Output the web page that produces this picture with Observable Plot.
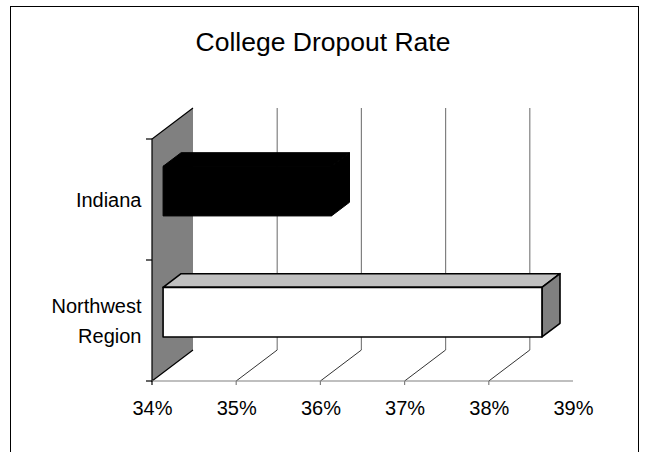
<!DOCTYPE html>
<html>
<head>
<meta charset="utf-8">
<script src="https://cdn.jsdelivr.net/npm/d3@7"></script>
<script src="https://cdn.jsdelivr.net/npm/@observablehq/plot@0.6"></script>
<style>
  html, body { margin: 0; padding: 0; background: #fff; overflow: hidden; }
  #chart { position: relative; width: 645px; height: 452px; font-family: "Liberation Sans", Arial, sans-serif; }
  #frame { position: absolute; left: 10px; top: 6px; width: 629px; height: 470px; border: 1.5px solid #000; border-bottom: none; box-sizing: border-box; }
  #title { position: absolute; left: 0; top: 29px; width: 646px; text-align: center; font-size: 26.5px; line-height: 26px; color: #000; }
  #chart svg { position: absolute; left: 0; top: 0; }
</style>
</head>
<body>
<div id="chart">
  <div id="frame"></div>
  <div id="title">College Dropout Rate</div>
</div>
<script>
// Dropout rate (%) by area
const categories = ["Indiana", "Northwest Region"];
const categoryLabels = ["Indiana", "Northwest\nRegion"];
const dropoutRates = [36.0, 38.5];

// Value axis
const xTicks = [34, 35, 36, 37, 38, 39];
const xTickLabels = ["34%", "35%", "36%", "37%", "38%", "39%"];

// 3-D look: offset from the front plane to the back wall, in pixels
const DEPTH_X = 41, DEPTH_Y = -31;
const BAR_FRONT = 0.27, BAR_BACK = 0.71;   // bar slab position within the depth
const BAR_THICKNESS = 0.41;                // share of a category band

const barStyles = [
  {front: "#000", top: "#000", side: "#000", stroke: "#000", width: 1},
  {front: "#fff", top: "#c0c0c0", side: "#808080", stroke: "#000", width: 1.6}
];

const ns = "http://www.w3.org/2000/svg";
function el(name, attrs) {
  const e = document.createElementNS(ns, name);
  for (const k in attrs) e.setAttribute(k, attrs[k]);
  return e;
}
const pts = (a) => a.map(p => p.join(",")).join(" ");

function frameGeometry(scales) {
  const {x, y} = scales;
  const step = y(categories[1]) - y(categories[0]);
  const yTop = y(categories[0]);
  const yBot = y(categories[categories.length - 1]) + step;
  return {x, y, step, yTop, yBot, x0: x(xTicks[0]), x1: x(xTicks[xTicks.length - 1])};
}

// back wall gridlines and floor lines
function gridMark(index, scales) {
  const {x, yTop, yBot} = frameGeometry(scales);
  const g = el("g", {});
  const lo = xTicks[0], hi = xTicks[xTicks.length - 1];
  for (const t of xTicks.filter(t => t > lo && t < hi)) {
    const xb = x(t) + DEPTH_X;
    g.appendChild(el("line", {x1: xb, x2: xb, y1: yTop + DEPTH_Y, y2: yBot + DEPTH_Y, stroke: "#808080", "stroke-width": 1.2}));
    g.appendChild(el("line", {x1: x(t), y1: yBot, x2: xb, y2: yBot + DEPTH_Y, stroke: "#333", "stroke-width": 1}));
  }
  return g;
}

// side wall behind the category axis
function wallMark(index, scales) {
  const {x0, yTop, yBot} = frameGeometry(scales);
  const g = el("g", {});
  g.appendChild(el("polygon", {points: pts([[x0, yTop], [x0 + DEPTH_X, yTop + DEPTH_Y], [x0 + DEPTH_X, yBot + DEPTH_Y], [x0, yBot]]), fill: "#808080"}));
  g.appendChild(el("polyline", {points: pts([[x0 + DEPTH_X, yTop + DEPTH_Y], [x0, yTop], [x0, yBot], [x0 + DEPTH_X, yBot + DEPTH_Y]]), fill: "none", stroke: "#000", "stroke-width": 1.2}));
  return g;
}

// value axis line, ticks and category ticks
function axisMark(index, scales) {
  const {x, y, x0, x1, yBot} = frameGeometry(scales);
  const g = el("g", {});
  g.appendChild(el("line", {x1: x0, x2: x1, y1: yBot, y2: yBot, stroke: "#808080", "stroke-width": 1.2}));
  for (const t of xTicks.slice(0, -1)) {
    g.appendChild(el("line", {x1: x(t), x2: x(t), y1: yBot, y2: yBot + 4, stroke: t === xTicks[0] ? "#000" : "#808080", "stroke-width": 1.2}));
  }
  const bounds = categories.map(c => y(c)).concat([yBot]);
  for (const yy of bounds) {
    g.appendChild(el("line", {x1: x0 - 6, x2: x0, y1: yy, y2: yy, stroke: "#000", "stroke-width": 1.2}));
  }
  return g;
}

// 3-D bars
function barMark(index, scales) {
  const {x, y, step, x0} = frameGeometry(scales);
  const g = el("g", {"stroke-linejoin": "round"});
  const fdx = BAR_FRONT * DEPTH_X, fdy = BAR_FRONT * DEPTH_Y;
  const bdx = (BAR_BACK - BAR_FRONT) * DEPTH_X, bdy = (BAR_BACK - BAR_FRONT) * DEPTH_Y;
  categories.forEach((c, i) => {
    const s = barStyles[i];
    const cy = y(c) + step / 2 + fdy;
    const h = BAR_THICKNESS * step;
    const left = x0 + fdx, right = x(dropoutRates[i]) + fdx;
    const top = cy - h / 2, bot = cy + h / 2;
    const common = {stroke: s.stroke, "stroke-width": s.width};
    g.appendChild(el("polygon", {points: pts([[left, top], [left + bdx, top + bdy], [right + bdx, top + bdy], [right, top]]), fill: s.top, ...common}));
    g.appendChild(el("polygon", {points: pts([[right, top], [right + bdx, top + bdy], [right + bdx, bot + bdy], [right, bot]]), fill: s.side, ...common}));
    g.appendChild(el("rect", {x: left, y: top, width: right - left, height: h, fill: s.front, ...common}));
  });
  return g;
}

const chart = Plot.plot({
  width: 645,
  height: 452,
  margin: 0,
  style: {background: "transparent", fontFamily: "'Liberation Sans', Arial, sans-serif", color: "#000"},
  x: {domain: [xTicks[0], xTicks[xTicks.length - 1]], range: [152, 573], axis: null},
  y: {type: "band", domain: categories, range: [138, 381], padding: 0, axis: null},
  marks: [
    gridMark,
    wallMark,
    axisMark,
    barMark,
    Plot.text(categories, {
      y: d => d,
      x: xTicks[0],
      text: (d, i) => categoryLabels[i],
      textAnchor: "end",
      dx: -11,
      dy: -3,
      fontSize: 20,
      lineHeight: 1.5,
      fill: "#000"
    }),
    Plot.text(xTicks, {
      x: d => d,
      text: (d, i) => xTickLabels[i],
      frameAnchor: "bottom",
      dy: -38,
      fontSize: 20,
      fill: "#000"
    })
  ]
});

document.getElementById("chart").appendChild(chart);
</script>
</body>
</html>
